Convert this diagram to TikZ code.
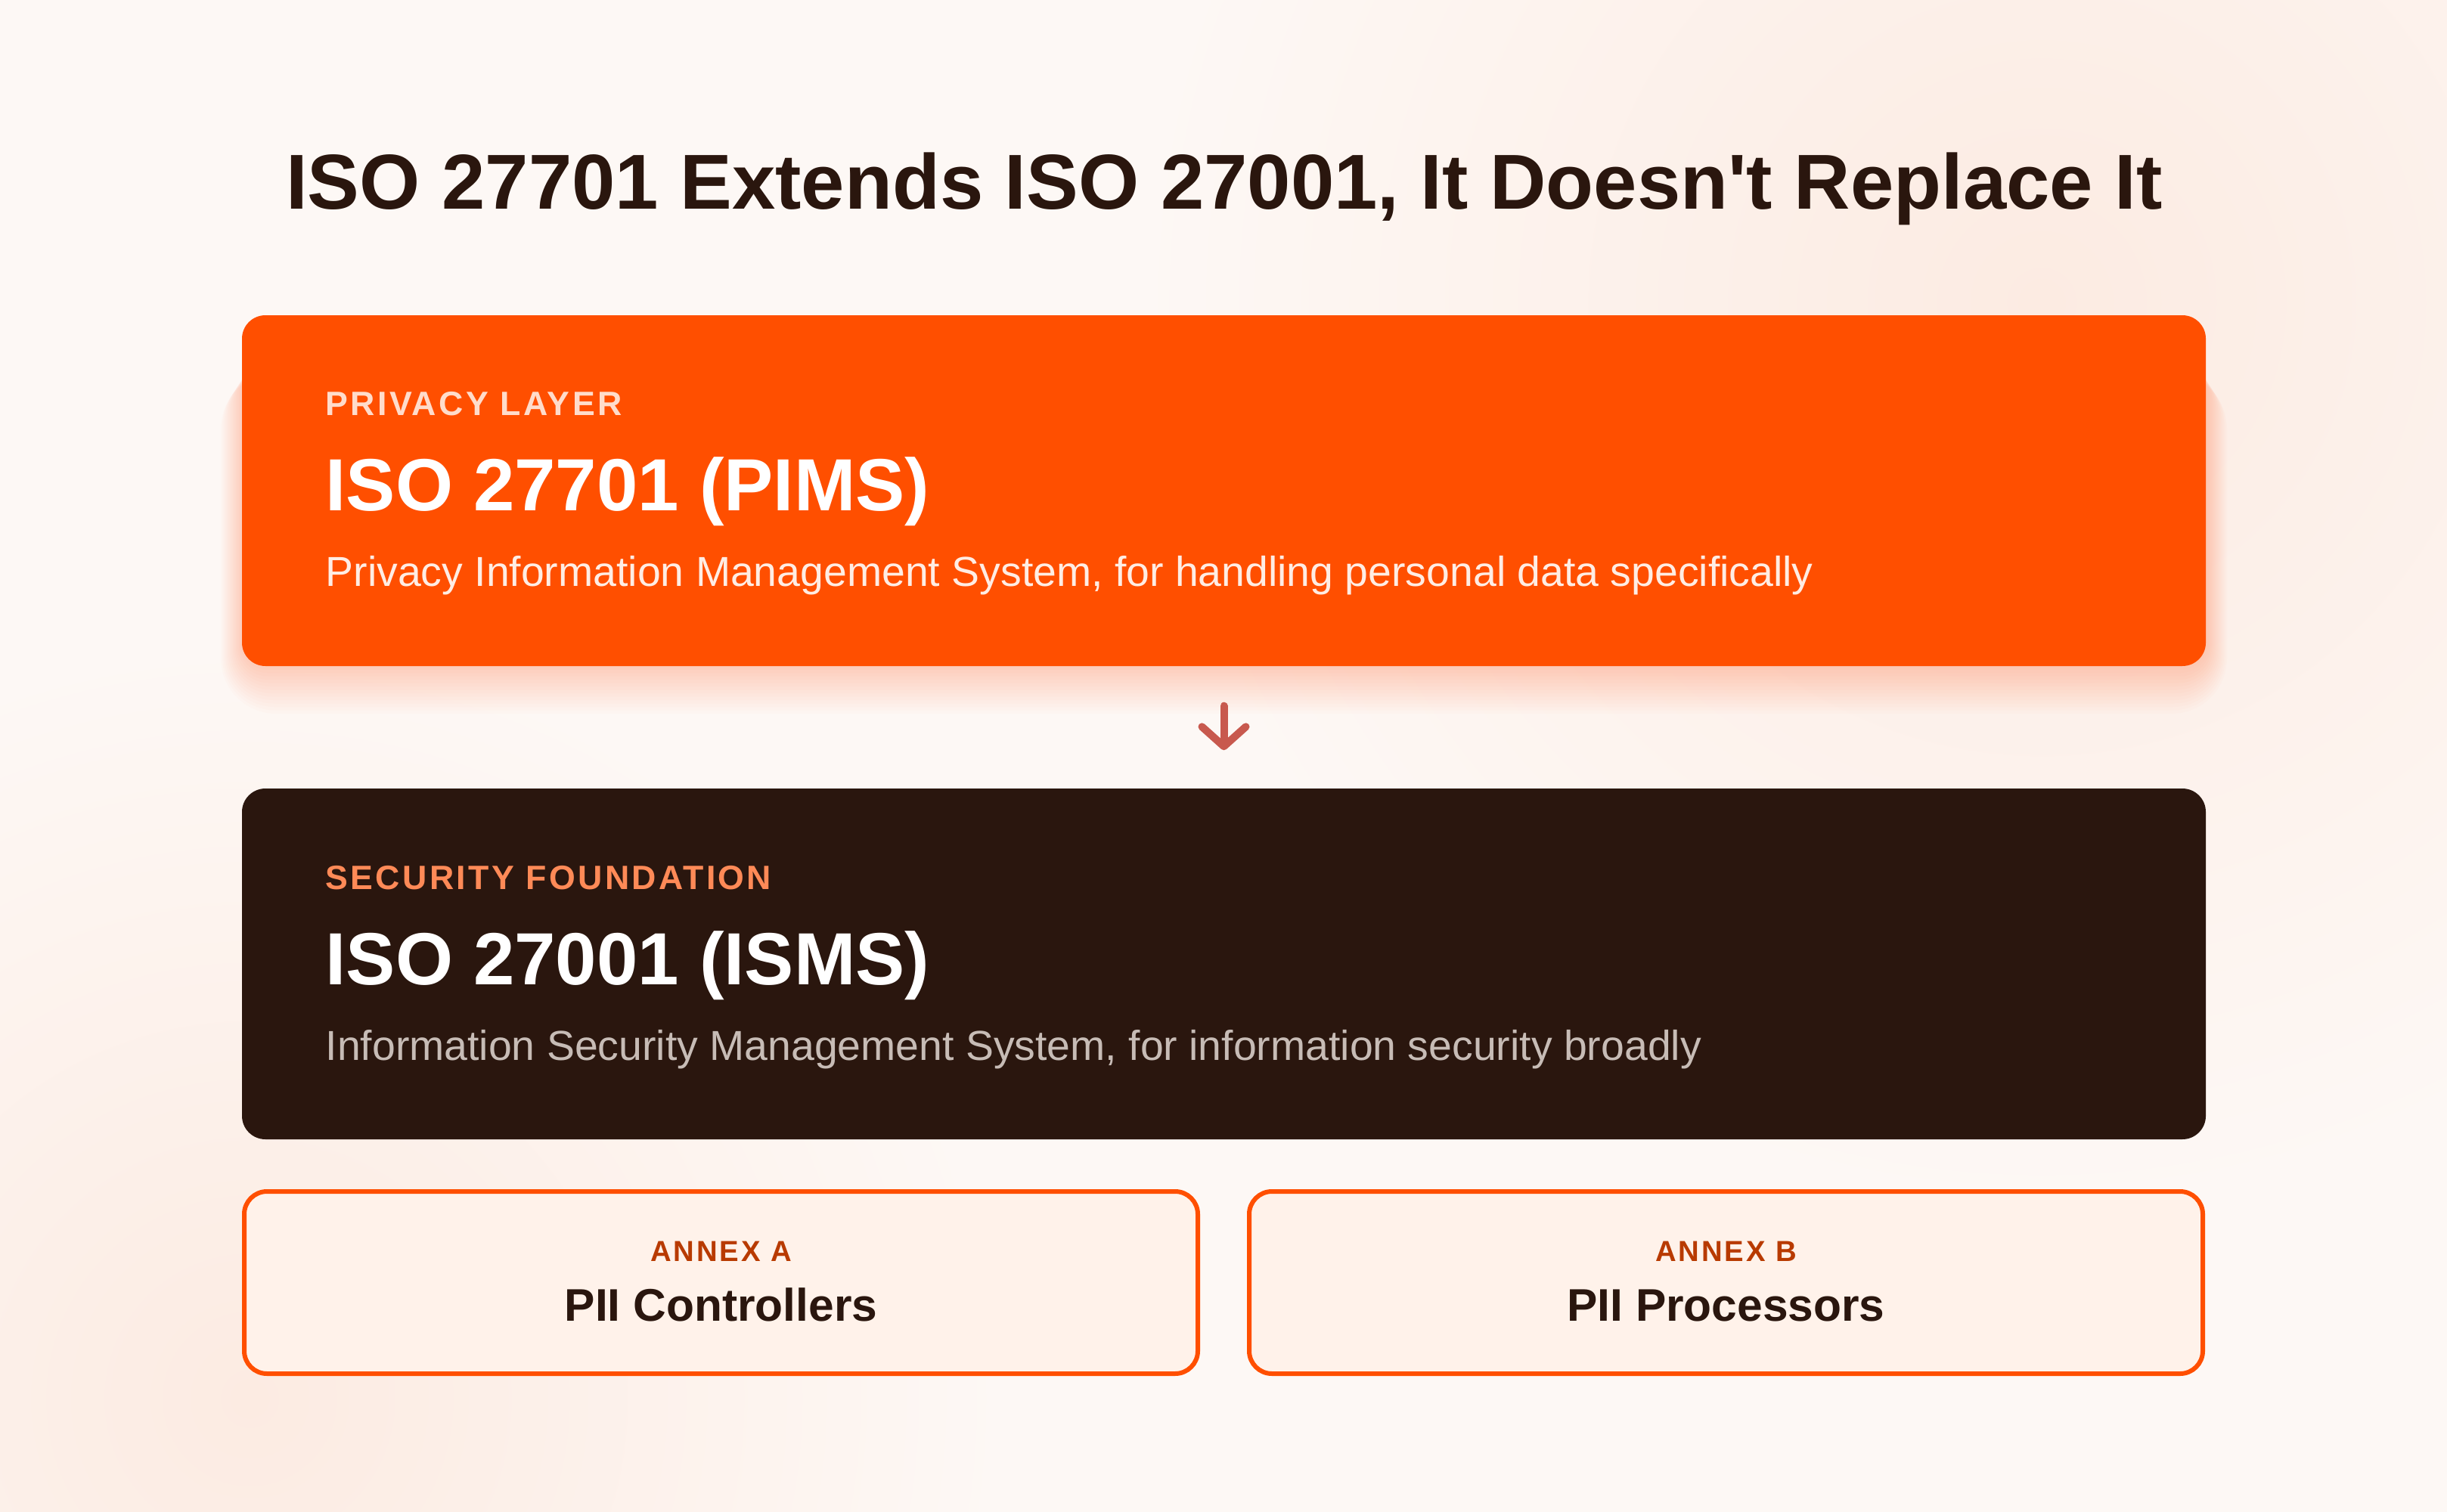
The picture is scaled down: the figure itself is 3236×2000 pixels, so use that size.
\documentclass[tikz,border=0pt]{standalone}
\usepackage{fontspec}
\setmainfont{Liberation Sans}
\newfontfamily\spacedfont{Liberation Sans}[LetterSpace=7.5]
\usetikzlibrary{arrows.meta}
\newlength{\du}
\setlength{\du}{0.01cm}

\begin{document}
\begin{tikzpicture}[x=\du, y=\du,
  layerbox/.style={rounded corners=31\du, minimum width=2597\du, minimum height=464\du, inner sep=0pt},
  annexbox/.style={draw=pimsorange, line width=6\du, fill=annexfill, rounded corners=30\du, minimum width=1261\du, minimum height=241\du, inner sep=0pt},
  tagtext/.style={anchor=base west, inner sep=0pt, font=\spacedfont\bfseries\fontsize{12.7pt}{15pt}\selectfont},
  headtext/.style={anchor=base west, inner sep=0pt, text=white, font=\bfseries\fontsize{27.8pt}{33pt}\selectfont},
  desctext/.style={anchor=base west, inner sep=0pt, font=\fontsize{15.75pt}{19pt}\selectfont},
  annextag/.style={anchor=base, inner sep=0pt, text=annextagc, font=\spacedfont\bfseries\fontsize{10.9pt}{13pt}\selectfont},
  annexname/.style={anchor=base, inner sep=0pt, text=inkdark, font=\bfseries\fontsize{17.2pt}{20pt}\selectfont},
  flowarrow/.style={draw=arrowc, line width=10\du, line cap=round, -{Straight Barb[length=0.26cm, width=0.58cm, round]}}
]
\pgftransformyscale{-1.000000}
\definecolor{pagebg}{HTML}{FDF8F5}
\definecolor{glow}{HTML}{FCEBE2}
\definecolor{pimsorange}{HTML}{FF4F00}
\definecolor{inkdark}{HTML}{2A160E}
\definecolor{pimstagc}{HTML}{FFDCCB}
\definecolor{pimsdescc}{HTML}{FFEDE4}
\definecolor{ismstagc}{HTML}{FF8A57}
\definecolor{ismsdescc}{HTML}{C7BCB6}
\definecolor{arrowc}{HTML}{C8594E}
\definecolor{annexfill}{HTML}{FFF2EA}
\definecolor{annextagc}{HTML}{B83A00}
\useasboundingbox (0,0) rectangle (3236,2000);
\fill[pagebg] (0,0) rectangle (3236,2000);
% soft glows
\begin{scope}
\clip (0,0) rectangle (3236,2000);
\shade[inner color=glow, outer color=pagebg] (2700,400) circle (1200);
\shade[inner color=glow, outer color=pagebg] (330,1850) circle (1000);
\end{scope}
% shadow of the privacy layer
\foreach \s in {1,...,14}
  \fill[pimsorange, opacity=0.016, rounded corners={(31+3*\s)*\du}] ({320-2*\s},{480+\s}) rectangle ({2917+2*\s},{881+4.5*\s});
% title
\node[anchor=base, inner sep=0pt, text=inkdark, font=\bfseries\fontsize{29.3pt}{35pt}\selectfont] (title) at (1619,276) {ISO 27701 Extends ISO 27001, It Doesn\textquotesingle t Replace It};
% privacy layer
\node[layerbox, fill=pimsorange] (pims) at (1618.5,649) {};
\node[tagtext, text=pimstagc] (pimstag) at (430,549) {PRIVACY LAYER};
\node[headtext] (pimstitle) at (430,675) {ISO 27701 (PIMS)};
\node[desctext, text=pimsdescc] (pimsdesc) at (430,775) {Privacy Information Management System, for handling personal data specifically};
% security foundation
\node[layerbox, fill=inkdark] (isms) at (1618.5,1275) {};
\node[tagtext, text=ismstagc] (ismstag) at (430,1176) {SECURITY FOUNDATION};
\node[headtext] (ismstitle) at (430,1302) {ISO 27001 (ISMS)};
\node[desctext, text=ismsdescc] (ismsdesc) at (430,1402) {Information Security Management System, for information security broadly};
\draw[flowarrow, shorten <=52\du, shorten >=50\du] (pims.south) -- (isms.north);
% annexes
\node[annexbox] (annexa) at (953.5,1696.5) {};
\node[annextag] (annexatag) at (953.5,1668) {ANNEX A};
\node[annexname] (annexaname) at (953.5,1747) {PII Controllers};
\node[annexbox] (annexb) at (2282.5,1696.5) {};
\node[annextag] (annexbtag) at (2282.5,1668) {ANNEX B};
\node[annexname] (annexbname) at (2282.5,1747) {PII Processors};
\end{tikzpicture}
\end{document}
